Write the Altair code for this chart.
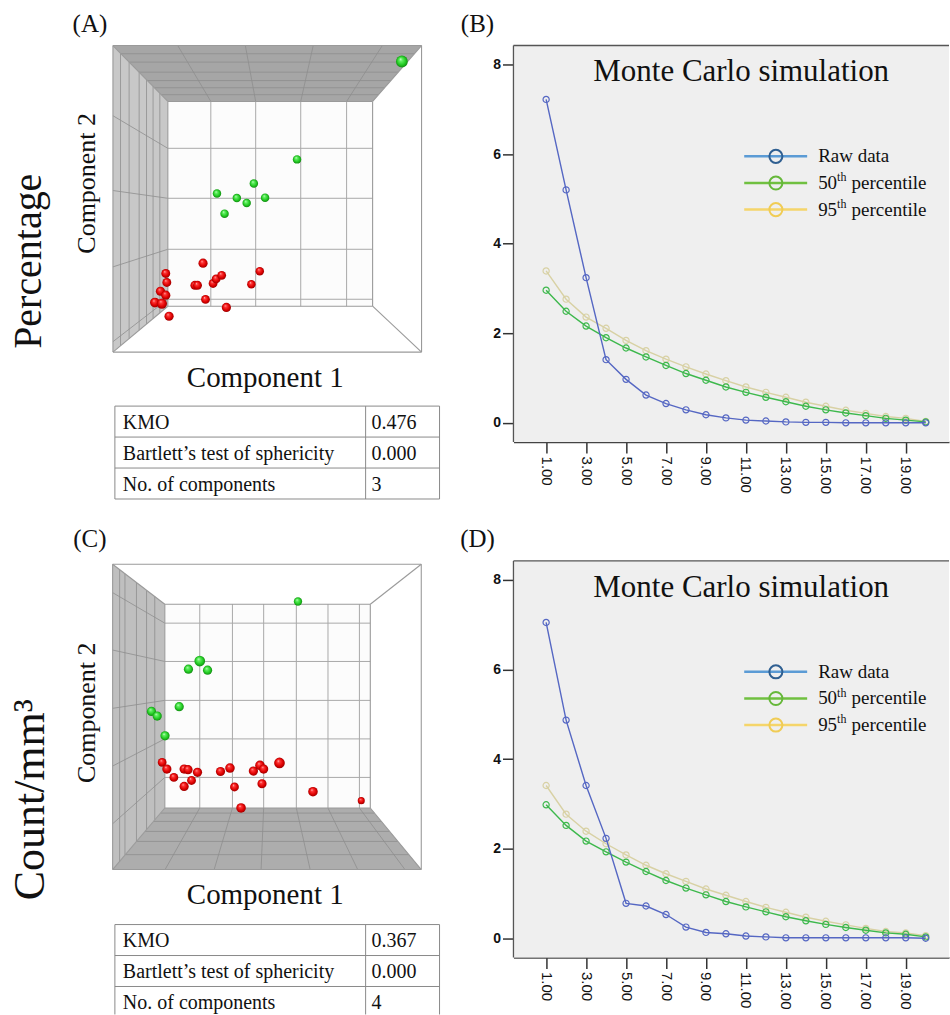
import altair as alt
import pandas as pd

SERIF = "Liberation Serif"
SANS = "Liberation Sans"

# ---------------- data: Monte Carlo parallel analysis (eigenvalues) ----------------
components = list(range(1, 21))
series_names = ["Raw data", "50th percentile", "95th percentile"]

b_raw = [7.22, 5.20, 3.24, 1.41, 0.97, 0.62, 0.43, 0.29, 0.18, 0.11, 0.06, 0.04, 0.02, 0.01, 0.01, 0.0, 0.0, 0.0, 0.0, 0.0]
b_p50 = [2.96, 2.49, 2.16, 1.90, 1.67, 1.47, 1.28, 1.10, 0.95, 0.80, 0.68, 0.57, 0.47, 0.37, 0.29, 0.22, 0.16, 0.10, 0.06, 0.02]
b_p95 = [3.39, 2.76, 2.36, 2.11, 1.84, 1.61, 1.42, 1.25, 1.09, 0.94, 0.80, 0.68, 0.57, 0.46, 0.37, 0.28, 0.21, 0.14, 0.10, 0.03]

d_raw = [7.05, 4.87, 3.41, 2.23, 0.78, 0.72, 0.53, 0.25, 0.13, 0.10, 0.05, 0.03, 0.01, 0.01, 0.01, 0.01, 0.01, 0.01, 0.01, 0.0]
d_p50 = [2.98, 2.52, 2.17, 1.93, 1.70, 1.49, 1.29, 1.12, 0.97, 0.82, 0.70, 0.59, 0.48, 0.39, 0.31, 0.24, 0.18, 0.12, 0.09, 0.03]
d_p95 = [3.41, 2.77, 2.39, 2.11, 1.86, 1.63, 1.44, 1.27, 1.10, 0.96, 0.82, 0.69, 0.58, 0.47, 0.38, 0.30, 0.22, 0.15, 0.12, 0.06]

x_tick_values = [1, 3, 5, 7, 9, 11, 13, 15, 17, 19]
y_tick_values = [0, 2, 4, 6, 8]

# ---------------- data: 3D component scatter (back wall spans 0..100) ----------------
a_green_c1 = [63.1, 42.0, 24.0, 33.7, 38.5, 47.5, 27.7, 114.3]
a_green_c2 = [71.7, 59.9, 55.0, 52.8, 50.4, 53.0, 45.2, 119.5]
a_green_sz = [72, 72, 72, 72, 72, 72, 72, 140]
a_red_c1 = [17.2, -1.0, -0.5, -3.6, -1.0, -6.3, -2.9, 0.6, 13.2, 14.5, 22.1, 23.6, 26.3, 18.4, 28.6, 40.8, 44.9]
a_red_c2 = [21.0, 16.0, 11.6, 7.3, 5.4, 1.8, 1.3, -4.9, 10.2, 10.2, 11.1, 13.3, 15.1, 3.3, -0.6, 10.7, 17.1]
a_red_sz = [85, 80, 80, 85, 85, 95, 105, 85, 80, 80, 78, 78, 78, 78, 85, 72, 72]

c_green_c1 = [64.8, 17.0, 11.5, 20.8, 7.0, -6.5, -3.7, 0.1]
c_green_c2 = [101.3, 72.1, 68.1, 67.6, 49.7, 47.4, 45.1, 35.4]
c_green_sz = [70, 115, 85, 85, 85, 85, 85, 85]
c_red_c1 = [-1.3, 1.0, 4.4, 9.4, 11.3, 15.9, 13.0, 9.4, 27.1, 31.7, 33.9, 37.1, 43.1, 46.3, 48.1, 47.3, 55.8, 72.1, 95.6]
c_red_c2 = [22.4, 19.1, 15.0, 19.1, 18.8, 17.5, 13.5, 10.6, 17.9, 19.6, 10.3, 0.0, 18.1, 20.9, 19.1, 11.9, 22.1, 8.0, 3.6]
c_red_sz = [78, 85, 78, 85, 85, 85, 78, 85, 85, 92, 78, 92, 85, 92, 85, 85, 115, 92, 50]

table_labels = ["KMO", "Bartlett\u2019s test of sphericity", "No. of components"]
table_a_values = ["0.476", "0.000", "3"]
table_c_values = ["0.367", "0.000", "4"]

ONE = pd.DataFrame({"k": [0]})


def lerp(a, b, t):
    return a + (b - a) * t


def text_mark(txt, x, y, size, angle=0, align="center", baseline="alphabetic", font=SERIF, color="#111111"):
    return alt.Chart(ONE).mark_text(text=txt, font=font, fontSize=size, angle=angle, align=align,
                                    baseline=baseline, color=color).encode(x=alt.value(x), y=alt.value(y))


def seg_layer(segs, xs, ys, color, width):
    df = pd.DataFrame(segs, columns=["x1", "y1", "x2", "y2"])
    return alt.Chart(df).mark_rule(color=color, strokeWidth=width).encode(
        x=alt.X("x1:Q", scale=xs, axis=None), y=alt.Y("y1:Q", scale=ys, axis=None),
        x2="x2:Q", y2="y2:Q")


def sphere_layer(c1, c2, sizes, stops, xs, ys):
    df = pd.DataFrame({"c1": c1, "c2": c2, "s": sizes})
    grad = alt.RadialGradient(gradient="radial",
                              stops=[alt.GradientStop(offset=o, color=c) for o, c in stops],
                              x1=0.38, y1=0.3, r1=0.0, x2=0.5, y2=0.5, r2=0.55)
    return alt.Chart(df).mark_circle(fill=grad, opacity=1, strokeWidth=0).encode(
        x=alt.X("c1:Q", scale=xs, axis=None), y=alt.Y("c2:Q", scale=ys, axis=None),
        size=alt.Size("s:Q", scale=None, legend=None))


RED_STOPS = [(0, "#ffd0d0"), (0.22, "#ff3a3a"), (0.65, "#e00000"), (1, "#8a0000")]
GREEN_STOPS = [(0, "#e0ffe0"), (0.22, "#66f066"), (0.65, "#22cc22"), (1, "#0f7a0f")]


def scatter_panel(cfg):
    H = cfg["H"]
    xs = alt.Scale(domain=cfg["xdom"], nice=False, zero=False)
    ys = alt.Scale(domain=cfg["ydom"], nice=False, zero=False)
    L, R, T, B = cfg["outer"]
    layers = []

    # left wall (gray)
    lw = pd.DataFrame({"u": [L, 0], "lo": [B, 0], "hi": [T, 100]})
    layers.append(alt.Chart(lw).mark_area(color=cfg["side_color"], opacity=1).encode(
        x=alt.X("u:Q", scale=xs, axis=None), y=alt.Y("lo:Q", scale=ys, axis=None), y2="hi:Q"))
    # ceiling or floor (gray)
    if cfg["gray_flat"] == "top":
        fw = pd.DataFrame({"v": [100, T], "lo": [0, L], "hi": [100, R]})
    else:
        fw = pd.DataFrame({"v": [B, 0], "lo": [L, 0], "hi": [R, 100]})
    layers.append(alt.Chart(fw).mark_area(color=cfg["flat_color"], opacity=1, orient="horizontal").encode(
        y=alt.Y("v:Q", scale=ys, axis=None), x=alt.X("lo:Q", scale=xs, axis=None), x2="hi:Q"))
    # back wall
    bw = pd.DataFrame({"x": [0], "x2": [100], "y": [0], "y2": [100]})
    layers.append(alt.Chart(bw).mark_rect(color="#fcfcfc").encode(
        x=alt.X("x:Q", scale=xs, axis=None), x2="x2:Q", y=alt.Y("y:Q", scale=ys, axis=None), y2="y2:Q"))

    # grid on back wall
    back = [(u, 0, u, 100) for u in cfg["back_u"]] + [(0, v, 100, v) for v in cfg["back_v"]]
    layers.append(seg_layer(back, xs, ys, "#a9a9a9", 1))

    # grid on gray walls
    wall = []
    for v in cfg["back_v"]:
        wall.append((0, v, L, lerp(B, T, v / 100)))
    for x in cfg["side_depth"]:
        t = x / L
        wall.append((x, t * B, x, 100 + t * (T - 100)))
    if cfg["gray_flat"] == "top":
        for u in cfg["back_u"]:
            wall.append((u, 100, lerp(L, R, u / 100), T))
        for v in cfg["flat_depth"]:
            t = (v - 100) / (T - 100)
            wall.append((t * L, v, 100 + t * (R - 100), v))
    else:
        for u in cfg["back_u"]:
            wall.append((u, 0, lerp(L, R, u / 100), B))
        for v in cfg["flat_depth"]:
            t = v / B
            wall.append((t * L, v, 100 + t * (R - 100), v))
    layers.append(seg_layer(wall, xs, ys, "#8e8e8e", 0.8))

    # box edges
    edges = [(L, B, R, B), (L, T, R, T), (L, B, L, T), (R, B, R, T),
             (0, 0, 100, 0), (0, 100, 100, 100), (0, 0, 0, 100), (100, 0, 100, 100),
             (0, 0, L, B), (100, 0, R, B), (0, 100, L, T), (100, 100, R, T)]
    layers.append(seg_layer(edges, xs, ys, "#9a9a9a", 1.1))

    # spheres
    layers.append(sphere_layer(cfg["green"][0], cfg["green"][1], cfg["green"][2], GREEN_STOPS, xs, ys))
    layers.append(sphere_layer(cfg["red"][0], cfg["red"][1], cfg["red"][2], RED_STOPS, xs, ys))

    # texts
    layers.append(text_mark(cfg["letters"][0], 90, 31, 25))
    layers.append(text_mark(cfg["letters"][1], 478, 31, 25))
    layers.append(text_mark(cfg["row_label"], cfg["row_label_x"], cfg["row_label_y"], cfg["row_label_size"], angle=270))
    layers.append(text_mark("Component 2", 95, cfg["comp2_y"], 26, angle=270))
    layers.append(text_mark("Component 1", 265.5, cfg["comp1_y"], 29))

    # table
    top, rh = cfg["table_top"], 31
    left, div, right = 115, 366, 440
    bottom = min(top + 3 * rh, H)
    for i in range(4):
        yy = top + i * rh
        if yy <= H - 1:
            layers.append(alt.Chart(ONE).mark_rule(color="#8a8a8a", strokeWidth=1).encode(
                x=alt.value(left), x2=alt.value(right), y=alt.value(yy)))
    for xx in (left, div, right):
        layers.append(alt.Chart(ONE).mark_rule(color="#8a8a8a", strokeWidth=1).encode(
            x=alt.value(xx), y=alt.value(top), y2=alt.value(bottom)))
    for i, (lab, val) in enumerate(zip(table_labels, cfg["values"])):
        yb = top + i * rh + rh / 2 + 7
        layers.append(text_mark(lab, left + 8, yb, 20, align="left"))
        layers.append(text_mark(val, div + 6, yb, 20, align="left"))

    return alt.layer(*layers).properties(width=500, height=H)


def scree_panel(raw, p50, p95):
    W, H = 436, 442
    xs = alt.Scale(domain=[-0.635, 21.165], nice=False, zero=False)
    ys = alt.Scale(domain=[-0.430, 9.427], nice=False, zero=False)
    x_axis = alt.Axis(values=x_tick_values, format=".2f", labelAngle=90, labelFont=SANS, labelFontSize=15,
                      labelColor="#111111", tickSize=11, tickColor="#333333", tickWidth=1.5,
                      domainColor="#444444", domainWidth=1.5, grid=False, title=None, labelPadding=3)
    y_axis = alt.Axis(values=y_tick_values, format="d", labelFont=SANS, labelFontSize=14, labelFontWeight="bold",
                      labelColor="#111111", tickSize=11, tickColor="#333333", tickWidth=1.5,
                      domain=False, grid=False, title=None, labelPadding=2)
    layers = [
        alt.Chart(ONE).mark_rect(color="#efefef").encode(
            x=alt.value(0), x2=alt.value(W), y=alt.value(45), y2=alt.value(H)),
        alt.Chart(ONE).mark_rule(color="#555555", strokeWidth=1.3).encode(
            x=alt.value(0), y=alt.value(45), y2=alt.value(H)),
        alt.Chart(ONE).mark_rule(color="#555555", strokeWidth=1.3).encode(
            x=alt.value(0), x2=alt.value(W), y=alt.value(45)),
    ]
    line_colors = {"Raw data": "#5567c3", "50th percentile": "#3db84c", "95th percentile": "#d8d1a4"}
    values = {"Raw data": raw, "50th percentile": p50, "95th percentile": p95}
    for name in ["95th percentile", "50th percentile", "Raw data"]:
        df = pd.DataFrame({"component": components, "eigen": values[name]})
        enc = dict(x=alt.X("component:Q", scale=xs, axis=x_axis), y=alt.Y("eigen:Q", scale=ys, axis=y_axis))
        layers.append(alt.Chart(df).mark_line(color=line_colors[name], strokeWidth=1.4).encode(**enc))
        layers.append(alt.Chart(df).mark_point(color=line_colors[name], filled=False, size=38,
                                               strokeWidth=1.2, opacity=1).encode(**enc))
    layers.append(text_mark("Monte Carlo simulation", 228, 81, 31))
    # legend
    leg_line = ["#5b9bd5", "#70c040", "#f5d56a"]
    leg_circ = ["#2f5f91", "#66b83a", "#f0cc55"]
    ly = [156, 182.7, 209.3]
    for i in range(3):
        layers.append(alt.Chart(ONE).mark_rule(color=leg_line[i], strokeWidth=2.5).encode(
            x=alt.value(231), x2=alt.value(294), y=alt.value(ly[i])))
        layers.append(alt.Chart(ONE).mark_point(shape="circle", filled=False, size=170, strokeWidth=2,
                                                color=leg_circ[i], opacity=1).encode(
            x=alt.value(262.7), y=alt.value(ly[i])))
    layers.append(text_mark("Raw data", 305, ly[0] + 6, 19, align="left"))
    for i, num in ((1, "50"), (2, "95")):
        layers.append(text_mark(num, 305, ly[i] + 6, 19, align="left"))
        layers.append(text_mark("th", 324, ly[i] - 2, 12, align="left"))
        layers.append(text_mark("percentile", 338.5, ly[i] + 6, 19, align="left"))
    return alt.layer(*layers).properties(width=W, height=H)


cfg_a = dict(
    H=516, xdom=[-81.95, 161.95], ydom=[-102.44, 149.27], outer=(-26.8, 123.9, 127.3, -22.4),
    gray_flat="top", side_color="#c8c8c8", flat_color="#a6a6a6",
    back_u=[21.0, 42.9, 64.9, 87.3], back_v=[77.1, 52.7, 27.8, 3.4],
    side_depth=[-23.1, -18.9, -14.0, -10.4, -7.2, -3.9],
    flat_depth=[123.3, 119.2, 114.3, 110.2, 106.7, 103.3],
    green=(a_green_c1, a_green_c2, a_green_sz), red=(a_red_c1, a_red_c2, a_red_sz),
    letters=("(A)", "(B)"), row_label="Percentage", row_label_x=41.5, row_label_y=261, row_label_size=40,
    comp2_y=183, comp1_y=387, table_top=406, values=table_a_values,
)
cfg_c = dict(
    H=499, xdom=[-80.21, 162.86], ydom=[-101.32, 143.28], outer=(-25.4, 124.8, 119.6, -30.2),
    gray_flat="bottom", side_color="#bfbfbf", flat_color="#adadad",
    back_u=[17.0, 32.9, 48.1, 64.0, 79.4, 94.7], back_v=[90.7, 71.9, 52.8, 33.9, 15.0],
    side_depth=[-22.0, -19.4, -13.8, -8.9, -4.9],
    flat_depth=[-2.5, -6.6, -11.5, -16.4, -22.9],
    green=(c_green_c1, c_green_c2, c_green_sz), red=(c_red_c1, c_red_c2, c_red_sz),
    letters=("(C)", "(D)"), row_label="Count/mm\u00b3", row_label_x=44, row_label_y=284, row_label_size=44,
    comp2_y=197, comp1_y=388, table_top=409, values=table_c_values,
)

row1 = alt.hconcat(scatter_panel(cfg_a), scree_panel(b_raw, b_p50, b_p95), spacing=14, bounds="flush")
row2 = alt.hconcat(scatter_panel(cfg_c), scree_panel(d_raw, d_p50, d_p95), spacing=14, bounds="flush")

chart = alt.vconcat(row1, row2, spacing=0).properties(padding=0, background="white").configure_view(stroke=None)

chart.save("out.html", embed_options={"renderer": "svg", "actions": False})
